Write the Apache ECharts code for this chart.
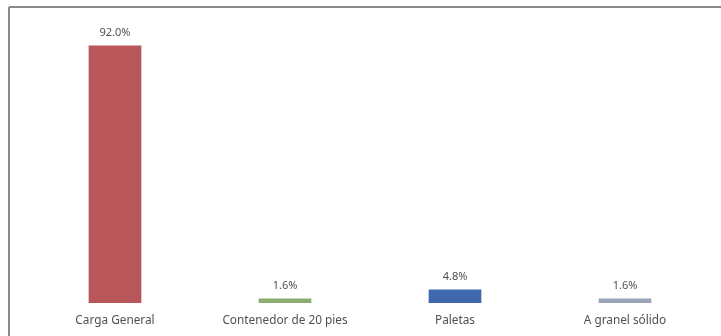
<!DOCTYPE html>
<html>
<head>
<meta charset="utf-8">
<script src="https://cdn.jsdelivr.net/npm/echarts@6/dist/echarts.min.js"></script>
<style>
  html, body { margin: 0; padding: 0; background: #ffffff; }
  #chart { width: 721px; height: 336px; }
</style>
</head>
<body>
<div id="chart"></div>
<script>
// Cargo type shares (%)
const categories = ['Carga General', 'Contenedor de 20 pies', 'Paletas', 'A granel sólido'];
const shares = [92.0, 1.6, 4.8, 1.6];
const barColors = ['#b9565a', '#8aac6c', '#3f68ad', '#9ba5ba'];

const chart = echarts.init(document.getElementById('chart'), null, { renderer: 'canvas' });

chart.setOption({
  backgroundColor: '#ffffff',
  animation: false,
  grid: { left: 30, right: 11, top: 23, bottom: 33, containLabel: false },
  xAxis: {
    type: 'category',
    data: categories,
    axisLine: { show: false },
    axisTick: { show: false },
    axisLabel: {
      color: '#505050',
      fontFamily: 'Noto Sans',
      fontSize: 11.8,
      margin: 12
    }
  },
  yAxis: {
    type: 'value',
    min: 0,
    max: 100,
    show: false,
    splitLine: { show: false }
  },
  series: [{
    type: 'bar',
    barWidth: '31%',
    data: shares.map((v, i) => ({ value: v, itemStyle: { color: barColors[i] } })),
    label: {
      show: true,
      position: 'top',
      distance: 7,
      color: '#505050',
      fontFamily: 'Noto Sans',
      fontSize: 11,
      formatter: p => p.value.toFixed(1) + '%'
    }
  }],
  graphic: [
    { type: 'line', shape: { x1: 9, y1: 7, x2: 721, y2: 7 }, style: { stroke: '#8a8a8a', lineWidth: 2 } },
    { type: 'line', shape: { x1: 9, y1: 7, x2: 9, y2: 336 }, style: { stroke: '#8a8a8a', lineWidth: 2 } }
  ]
});
</script>
</body>
</html>
